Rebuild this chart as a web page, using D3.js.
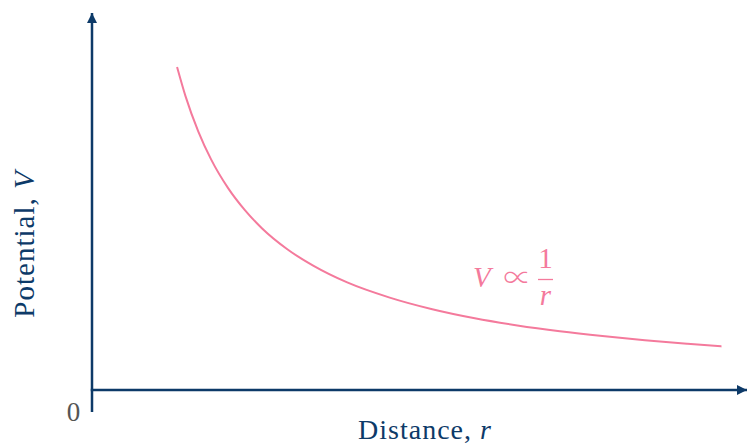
<!DOCTYPE html>
<html>
<head>
<meta charset="utf-8">
<script src="https://cdn.jsdelivr.net/npm/d3@7/dist/d3.min.js"></script>
<style>
  html, body { margin: 0; padding: 0; background: #fff; }
  svg { display: block; }
  text { font-family: "Liberation Serif", "DejaVu Serif", serif; }
</style>
</head>
<body>
<svg id="chart" width="747" height="445"></svg>
<script>
// Distance samples r and the potential V (V ∝ 1/r)
const distance  = [1.00, 1.10, 1.25, 1.40, 1.60, 1.80, 2.00, 2.30, 2.60, 3.00, 3.50, 4.00, 4.50, 5.00, 5.50, 6.00, 6.50, 7.00, 7.40];
const potential = [1.000, 0.909, 0.800, 0.714, 0.625, 0.556, 0.500, 0.435, 0.385, 0.333, 0.286, 0.250, 0.222, 0.200, 0.182, 0.167, 0.154, 0.143, 0.135];

const axisLabels = { x: "Distance, ", xVar: "r", y: "Potential, ", yVar: "V" };
const originLabel = "0";

const navy = "#0d3a68";
const pink = "#f47a9c";

const svg = d3.select("#chart");

const x = d3.scaleLinear().domain([0, 7.7]).range([92, 747]);
const y = d3.scaleLinear().domain([0, 1]).range([390, 67]);

// arrow heads
const defs = svg.append("defs");
defs.append("marker")
  .attr("id", "arrow")
  .attr("viewBox", "0 0 10 10")
  .attr("refX", 10).attr("refY", 5)
  .attr("markerWidth", 12).attr("markerHeight", 10)
  .attr("markerUnits", "userSpaceOnUse")
  .attr("orient", "auto")
  .append("path")
  .attr("d", "M0,0 L10,5 L0,10 Z")
  .attr("fill", navy);

// y axis (extends a little below the origin)
svg.append("line")
  .attr("x1", x(0)).attr("x2", x(0))
  .attr("y1", 412).attr("y2", 13)
  .attr("stroke", navy).attr("stroke-width", 2.5)
  .attr("marker-end", "url(#arrow)");

// x axis
svg.append("line")
  .attr("x1", x(0) - 1.25).attr("x2", 747)
  .attr("y1", y(0)).attr("y2", y(0))
  .attr("stroke", navy).attr("stroke-width", 2.5)
  .attr("marker-end", "url(#arrow)");

// curve
const line = d3.line()
  .x((d, i) => x(distance[i]))
  .y(d => y(d))
  .curve(d3.curveMonotoneX);

svg.append("path")
  .datum(potential)
  .attr("d", line)
  .attr("fill", "none")
  .attr("stroke", pink)
  .attr("stroke-width", 2);

// origin label
svg.append("text")
  .attr("x", 73.5).attr("y", 421)
  .attr("text-anchor", "middle")
  .attr("font-size", 27)
  .attr("fill", "#555")
  .text(originLabel);

// x axis title
const xt = svg.append("text")
  .attr("x", 425).attr("y", 439)
  .attr("text-anchor", "middle")
  .attr("font-size", 28)
  .attr("letter-spacing", 1)
  .attr("fill", navy);
xt.append("tspan").text(axisLabels.x);
xt.append("tspan").attr("font-style", "italic").text(axisLabels.xVar);

// y axis title
const yt = svg.append("text")
  .attr("transform", "translate(34,244) rotate(-90)")
  .attr("text-anchor", "middle")
  .attr("font-size", 29)
  .attr("letter-spacing", 1)
  .attr("fill", navy);
yt.append("tspan").text(axisLabels.y);
yt.append("tspan").attr("font-style", "italic").text(axisLabels.yVar);

// formula annotation: V ∝ 1/r
const ann = svg.append("g").attr("fill", pink).attr("font-size", 29);
ann.append("text").attr("x", 473).attr("y", 287).attr("font-style", "italic").text("V");
ann.append("text").attr("x", 517.5).attr("y", 288).attr("text-anchor", "middle")
  .style("font-family", "'Noto Sans CJK JP', 'DejaVu Serif', serif")
  .attr("font-weight", 300).attr("font-size", 28).text("∝");
ann.append("text").attr("x", 545.5).attr("y", 268).attr("text-anchor", "middle").text("1");
ann.append("line")
  .attr("x1", 538).attr("x2", 553)
  .attr("y1", 279.5).attr("y2", 279.5)
  .attr("stroke", pink).attr("stroke-width", 1.3);
ann.append("text").attr("x", 545.5).attr("y", 305).attr("text-anchor", "middle").attr("font-style", "italic").text("r");
</script>
</body>
</html>
